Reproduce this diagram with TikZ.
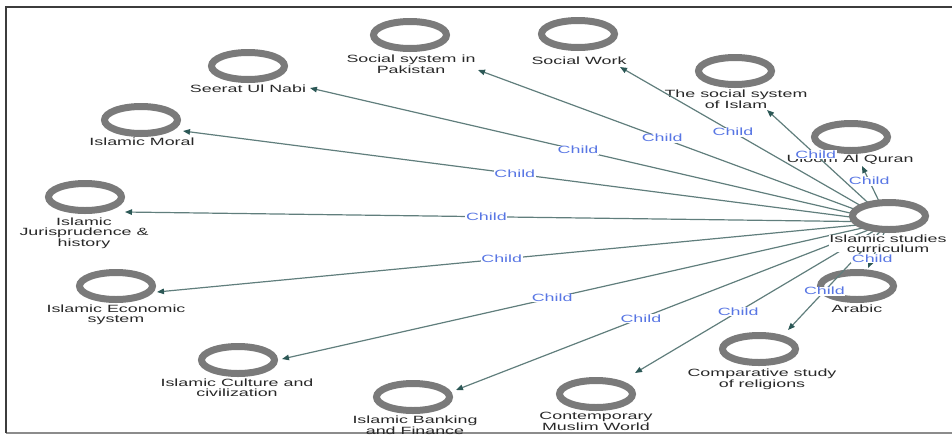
\documentclass[tikz,border=0pt]{standalone}
\usepackage{fontspec}
\newfontfamily\lblfont[FakeStretch=1.7]{Liberation Sans}
\usetikzlibrary{arrows.meta,shapes.geometric}
\definecolor{ringgray}{RGB}{122,122,122}
\definecolor{edgecol}{RGB}{96,126,124}
\definecolor{tipcol}{RGB}{44,88,86}
\definecolor{childblue}{RGB}{88,118,228}
\definecolor{txtcol}{RGB}{40,40,40}
\definecolor{framecol}{RGB}{60,60,60}
\definecolor{framelight}{RGB}{140,140,140}
\begin{document}
\begin{tikzpicture}[x=1pt,y=-1pt,
  ring/.style={ellipse,draw=ringgray,line width=7pt,fill=white,minimum width=73pt,minimum height=27pt,inner sep=0pt},
  lbl/.style={font=\lblfont\fontsize{10.5}{9.5}\selectfont,text=txtcol,align=center,anchor=north,inner sep=0pt},
  childedge/.style={draw=edgecol,line width=1.2pt,-{Triangle[length=7pt,width=5.5pt,color=tipcol]}},
  childlbl/.style={font=\lblfont\fontsize{10.5}{10.5}\selectfont,text=childblue,fill=white,inner sep=0.6pt}
]
\useasboundingbox (0,0) rectangle (952,437);
% frame
\draw[framelight,line width=1.2pt] (6,433) -- (952,433);
\draw[framecol,line width=1.5pt] (6,433) -- (6,7) -- (952,7);

% outer rings
\node[ring] (seerat) at (248,66) {};
\node[ring] (moral) at (141,120) {};
\node[ring] (juris) at (85,197) {};
\node[ring] (econ) at (116,286) {};
\node[ring] (cult) at (238,360) {};
\node[ring] (bank) at (413,397) {};
\node[ring] (contemp) at (596,394) {};
\node[ring] (compar) at (759,349) {};
\node[ring] (arabic) at (857,286) {};
\node[ring] (uloom) at (851,137) {};
\node[ring] (socisl) at (735,71) {};
\node[ring] (socwork) at (578,34) {};
\node[ring] (socpak) at (410,35) {};

% outer labels
\node[lbl] (seeratL) at (248,85) {Seerat Ul Nabi};
\node[lbl] (moralL) at (142,138) {Islamic Moral};
\node[lbl] (jurisL) at (84,218) {Islamic\\Jurisprudence \&\\history};
\node[lbl] (econL) at (116,305) {Islamic Economic\\system};
\node[lbl] (cultL) at (237,379) {Islamic Culture and\\civilization};
\node[lbl] (bankL) at (415,416) {Islamic Banking\\and Finance};
\node[lbl] (contempL) at (596,412) {Contemporary\\Muslim World};
\node[lbl] (comparL) at (762,369) {Comparative study\\of religions};
\node[lbl] (arabicL) at (857,305) {Arabic};
\node[lbl] (uloomL) at (850,155) {Uloom Al Quran};
\node[lbl] (socislL) at (736,90) {The social system\\of Islam};
\node[lbl] (socworkL) at (579,57) {Social Work};
\node[lbl] (socpakL) at (411,55) {Social system in\\Pakistan};

% arrow ends
\coordinate (src) at (889,222);
\coordinate (seeratT) at (310,88);
\coordinate (moralT) at (183,131);
\coordinate (jurisT) at (125,212);
\coordinate (econT) at (157,292);
\coordinate (cultT) at (282,359);
\coordinate (bankT) at (456,390);
\coordinate (contempT) at (635,373);
\coordinate (comparT) at (788,330);
\coordinate (arabicT) at (868,268);
\coordinate (uloomT) at (862,166);
\coordinate (socislT) at (767,110);
\coordinate (socworkT) at (620,67);
\coordinate (socpakT) at (478,70);

% edges
\draw[childedge] (src) -- node[childlbl,pos=0.537] {Child} (seeratT);
\draw[childedge] (src) -- node[childlbl,pos=0.53] {Child} (moralT);
\draw[childedge] (src) -- node[childlbl,pos=0.527] {Child} (jurisT);
\draw[childedge] (src) -- node[childlbl,pos=0.529] {Child} (econT);
\draw[childedge] (src) -- node[childlbl,pos=0.555] {Child} (cultT);
\draw[childedge] (src) -- node[childlbl,pos=0.573] {Child} (bankT);
\draw[childedge] (src) -- node[childlbl,pos=0.594] {Child} (contempT);
\draw[childedge] (src) -- node[childlbl,pos=0.64] {Child} (comparT);
\draw[childedge] (src) -- node[childlbl,pos=0.8] {Child} (arabicT);
\draw[childedge] (src) -- node[childlbl,pos=0.73] {Child} (uloomT);
\draw[childedge] (src) -- node[childlbl,pos=0.6] {Child} (socislT);
\draw[childedge] (src) -- node[childlbl,pos=0.58] {Child} (socworkT);
\draw[childedge] (src) -- node[childlbl,pos=0.552] {Child} (socpakT);

% centre node
\node[ring] (isc) at (889,216) {};
\node[lbl,fill=white] (iscL) at (888,235) {Islamic studies\\curriculum};
\end{tikzpicture}
\end{document}
